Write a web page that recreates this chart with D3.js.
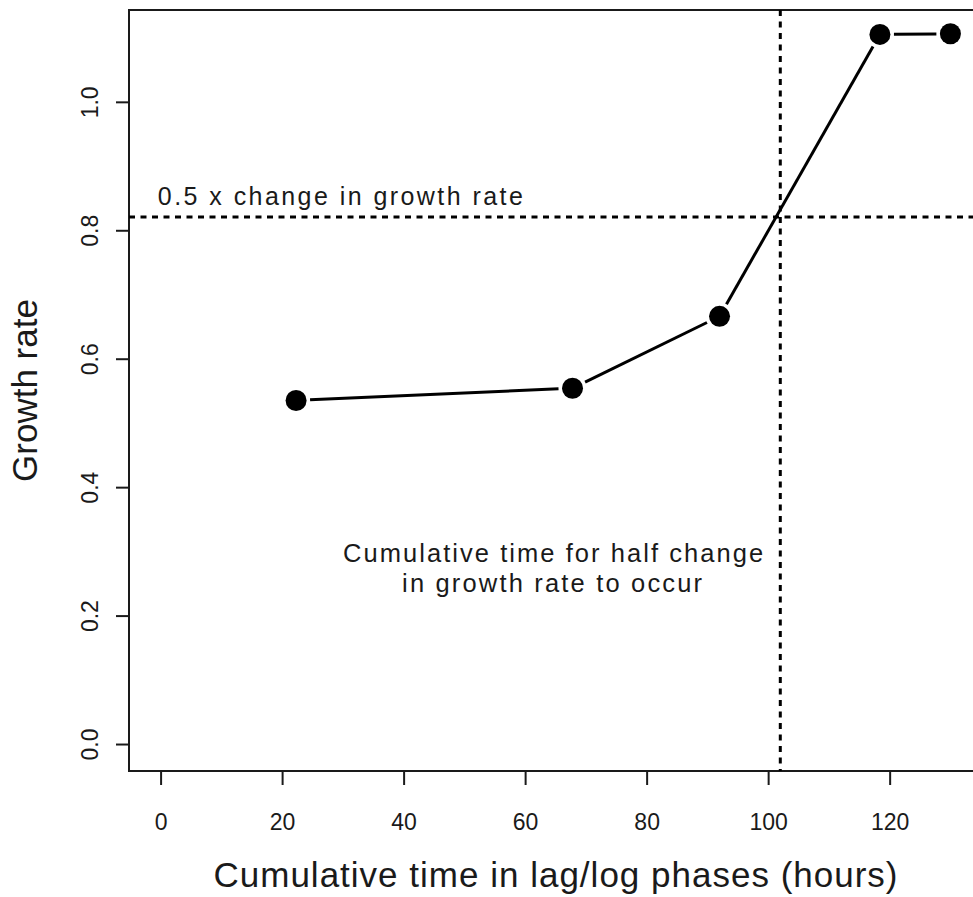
<!DOCTYPE html>
<html>
<head>
<meta charset="utf-8">
<script src="https://cdn.jsdelivr.net/npm/d3@7"></script>
<style>
  html, body { margin: 0; padding: 0; background: #fff; }
  svg { display: block; }
  text { font-family: "Liberation Sans", Arial, sans-serif; fill: #1a1a1a; }
</style>
</head>
<body>
<svg id="chart" width="973" height="897"></svg>
<script>
// Cumulative time (hours) and measured growth rate per phase
const hours = [22.3, 67.8, 92, 118.4, 130];
const growthRate = [0.535, 0.554, 0.666, 1.105, 1.106];

// Axis ticks
const xTicks = [0, 20, 40, 60, 80, 100, 120];
const yTicks = [0.0, 0.2, 0.4, 0.6, 0.8, 1.0];

// Reference levels: half the change in growth rate, and the time it is reached
const halfChangeRate = (growthRate[0] + growthRate[growthRate.length - 1]) / 2;
const halfChangeTime = 102;

const svg = d3.select("#chart");
const plot = { left: 129, right: 982, top: 10, bottom: 771 };

const x = d3.scaleLinear().domain([-5.2, 135.2]).range([plot.left, plot.right]);
const y = d3.scaleLinear().domain([-0.042, 1.143]).range([plot.bottom, plot.top]);

// Bottom axis
const xAxis = d3.axisBottom(x).tickValues(xTicks).tickSize(14).tickPadding(18)
  .tickFormat(d3.format("d"));
const gx = svg.append("g").attr("transform", `translate(0,${plot.bottom})`).call(xAxis);
gx.select(".domain").remove();
gx.selectAll(".tick line").attr("stroke", "#1a1a1a").attr("stroke-width", 2);
gx.selectAll(".tick text").attr("font-size", 23).attr("dy", null).attr("y", 59)
  .style("font-family", "'Liberation Sans', Arial, sans-serif").attr("fill", "#222");

// Left axis with rotated labels
const yAxis = d3.axisLeft(y).tickValues(yTicks).tickSize(13).tickFormat(d3.format(".1f"));
const gy = svg.append("g").attr("transform", `translate(${plot.left},0)`).call(yAxis);
gy.select(".domain").remove();
gy.selectAll(".tick line").attr("stroke", "#1a1a1a").attr("stroke-width", 2);
gy.selectAll(".tick text")
  .attr("x", null).attr("dy", null)
  .attr("text-anchor", "middle")
  .attr("transform", `translate(${98 - plot.left},0) rotate(-90)`)
  .attr("font-size", 23)
  .style("font-family", "'Liberation Sans', Arial, sans-serif").attr("fill", "#222");

// Plot frame
svg.append("rect")
  .attr("x", plot.left).attr("y", plot.top)
  .attr("width", plot.right - plot.left).attr("height", plot.bottom - plot.top)
  .attr("fill", "none").attr("stroke", "#1a1a1a").attr("stroke-width", 2);

// Dotted reference lines
const dots = "6,5.5";
svg.append("line")
  .attr("x1", plot.left).attr("x2", plot.right)
  .attr("y1", y(halfChangeRate)).attr("y2", y(halfChangeRate))
  .attr("stroke", "#000").attr("stroke-width", 3).attr("stroke-dasharray", dots);
svg.append("line")
  .attr("x1", x(halfChangeTime)).attr("x2", x(halfChangeTime))
  .attr("y1", plot.top).attr("y2", plot.bottom)
  .attr("stroke", "#000").attr("stroke-width", 3).attr("stroke-dasharray", dots);

// Connecting segments, trimmed so they stop short of each marker
const pts = hours.map((h, i) => [x(h), y(growthRate[i])]);
const gap = 14;
const segs = d3.pairs(pts).map(([a, b]) => {
  const dx = b[0] - a[0], dy = b[1] - a[1];
  const len = Math.hypot(dx, dy);
  const ux = dx / len, uy = dy / len;
  return [[a[0] + ux * gap, a[1] + uy * gap], [b[0] - ux * gap, b[1] - uy * gap]];
});
svg.append("g").selectAll("line").data(segs).join("line")
  .attr("x1", d => d[0][0]).attr("y1", d => d[0][1])
  .attr("x2", d => d[1][0]).attr("y2", d => d[1][1])
  .attr("stroke", "#000").attr("stroke-width", 3);

// Markers
svg.append("g").selectAll("circle").data(hours).join("circle")
  .attr("cx", d => x(d))
  .attr("cy", (d, i) => y(growthRate[i]))
  .attr("r", 10.5)
  .attr("fill", "#000");

// Annotations
svg.append("text")
  .attr("x", x(-0.45)).attr("y", 205)
  .attr("font-size", 25)
  .attr("textLength", 365).attr("lengthAdjust", "spacing")
  .attr("fill", "#222")
  .text("0.5 x change in growth rate");

const noteX = x(64.6);
svg.append("text")
  .attr("x", noteX).attr("y", 562).attr("text-anchor", "middle")
  .attr("font-size", 25.5)
  .attr("textLength", 420).attr("lengthAdjust", "spacing")
  .attr("fill", "#222")
  .text("Cumulative time for half change");
svg.append("text")
  .attr("x", noteX - 1).attr("y", 592).attr("text-anchor", "middle")
  .attr("font-size", 25.5)
  .attr("textLength", 300).attr("lengthAdjust", "spacing")
  .attr("fill", "#222")
  .text("in growth rate to occur");

// Axis titles
svg.append("text")
  .attr("x", (plot.left + plot.right) / 2).attr("y", 887)
  .attr("text-anchor", "middle").attr("font-size", 35)
  .attr("textLength", 684).attr("lengthAdjust", "spacing")
  .text("Cumulative time in lag/log phases (hours)");

svg.append("text")
  .attr("transform", `translate(37,${(plot.top + plot.bottom) / 2}) rotate(-90)`)
  .attr("text-anchor", "middle").attr("font-size", 35)
  .text("Growth rate");
</script>
</body>
</html>
